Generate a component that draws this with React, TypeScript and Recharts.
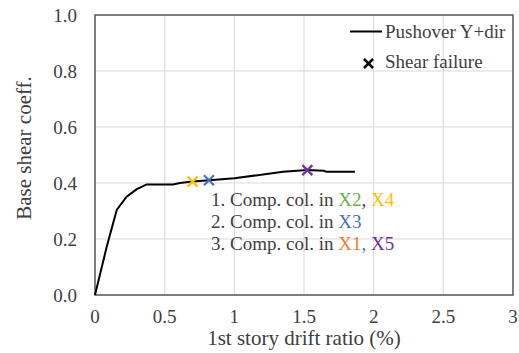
import React from "react";
import {
  ComposedChart,
  Line,
  Scatter,
  XAxis,
  YAxis,
  CartesianGrid,
  ReferenceArea,
} from "recharts";

// pushover curve
const driftRatio = [0, 0.084, 0.156, 0.227, 0.3, 0.371, 0.56, 0.61, 0.7, 0.82, 1.0, 1.35, 1.524, 1.64, 1.66, 1.866];
const shearCoeff = [0, 0.172, 0.304, 0.351, 0.378, 0.395, 0.395, 0.4, 0.405, 0.41, 0.417, 0.44, 0.446, 0.444, 0.44, 0.44];

// shear failure points
const failureDrift = [0.7, 0.818, 1.524];
const failureCoeff = [0.405, 0.41, 0.446];
const failureColors = ["#FFC000", "#4472C4", "#7030A0"];

const xTicks = [0, 0.5, 1, 1.5, 2, 2.5, 3];
const yTicks = [0, 0.2, 0.4, 0.6, 0.8, 1.0];

const curveData = driftRatio.map((x, i) => ({ x, y: shearCoeff[i] }));
const failureData = failureDrift.map((x, i) => ({
  x,
  y: failureCoeff[i],
  color: failureColors[i],
}));

const FONT = "'Liberation Serif', 'Times New Roman', serif";
const TEXT = "#404040";

const CrossShape = (props: any) => {
  const { cx, cy, payload } = props;
  const s = 5;
  return (
    <g stroke={payload.color} strokeWidth={2.2}>
      <line x1={cx - s} y1={cy - s} x2={cx + s} y2={cy + s} />
      <line x1={cx - s} y1={cy + s} x2={cx + s} y2={cy - s} />
    </g>
  );
};

const notes: { prefix: string; parts: { t: string; c: string }[] }[] = [
  { prefix: "1. Comp. col. in ", parts: [{ t: "X2", c: "#70AD47" }, { t: ", ", c: TEXT }, { t: "X4", c: "#FFC000" }] },
  { prefix: "2. Comp. col. in ", parts: [{ t: "X3", c: "#4472C4" }] },
  { prefix: "3. Comp. col. in ", parts: [{ t: "X1", c: "#ED7D31" }, { t: ", ", c: "#4472C4" }, { t: "X5", c: "#7030A0" }] },
];

const tickStyle = { fill: TEXT, fontSize: 19, fontFamily: FONT };

// legend and notes drawn on top of the chart
const Overlay = () => (
  <svg
    width={519}
    height={353}
    style={{ position: "absolute", left: 0, top: 0, pointerEvents: "none" }}
    fontFamily={FONT}
  >
    <line x1={350} y1={31.5} x2={382} y2={31.5} stroke="#000" strokeWidth={2} />
    <text x={385} y={37.5} fontSize={19} fill={TEXT}>
      Pushover Y+dir
    </text>
    <g stroke="#000" strokeWidth={2.5}>
      <line x1={364} y1={59} x2={373} y2={68} />
      <line x1={364} y1={68} x2={373} y2={59} />
    </g>
    <text x={385} y={67.5} fontSize={19} fill={TEXT}>
      Shear failure
    </text>
    {notes.map((n, i) => (
      <text key={i} x={211} y={205.5 + i * 22.2} fontSize={19} fill={TEXT}>
        {n.prefix}
        {n.parts.map((p, j) => (
          <tspan key={j} fill={p.c}>
            {p.t}
          </tspan>
        ))}
      </text>
    ))}
  </svg>
);

export default function App() {
  return (
    <div style={{ position: "absolute", left: 0, top: 0, width: 519, height: 353, background: "#fff" }}>
      <ComposedChart
        width={519}
        height={353}
        data={curveData}
        margin={{ top: 15, right: 6, bottom: 0, left: 0 }}
      >
        <CartesianGrid stroke="#d9d9d9" strokeWidth={1} />
        <XAxis
          type="number"
          dataKey="x"
          domain={[0, 3]}
          ticks={xTicks}
          height={58}
          axisLine={false}
          tickLine={false}
          tick={tickStyle}
          tickMargin={9}
          label={{
            value: "1st story drift ratio (%)",
            position: "insideBottom",
            offset: 8,
            fill: TEXT,
            fontSize: 21,
            fontFamily: FONT,
          }}
        />
        <YAxis
          type="number"
          dataKey="y"
          domain={[0, 1]}
          ticks={yTicks}
          width={95}
          axisLine={false}
          tickLine={false}
          tickFormatter={(v: number) => v.toFixed(1)}
          tick={tickStyle}
          tickMargin={12}
          label={{
            content: () => (
              <text
                x={24}
                y={148}
                transform="rotate(-90 24 148)"
                textAnchor="middle"
                dominantBaseline="central"
                fontSize={21}
                fontFamily={FONT}
                fill={TEXT}
              >
                Base shear coeff.
              </text>
            ),
          }}
        />
        <ReferenceArea
          x1={0}
          x2={3}
          y1={0}
          y2={1}
          fill="none"
          stroke="#595959"
          strokeWidth={1.5}
          ifOverflow="visible"
        />
        <Line
          dataKey="y"
          type="linear"
          stroke="#000"
          strokeWidth={2}
          dot={false}
          isAnimationActive={false}
        />
        <Scatter
          data={failureData}
          dataKey="y"
          shape={CrossShape}
          isAnimationActive={false}
        />
      </ComposedChart>
      <Overlay />
    </div>
  );
}
